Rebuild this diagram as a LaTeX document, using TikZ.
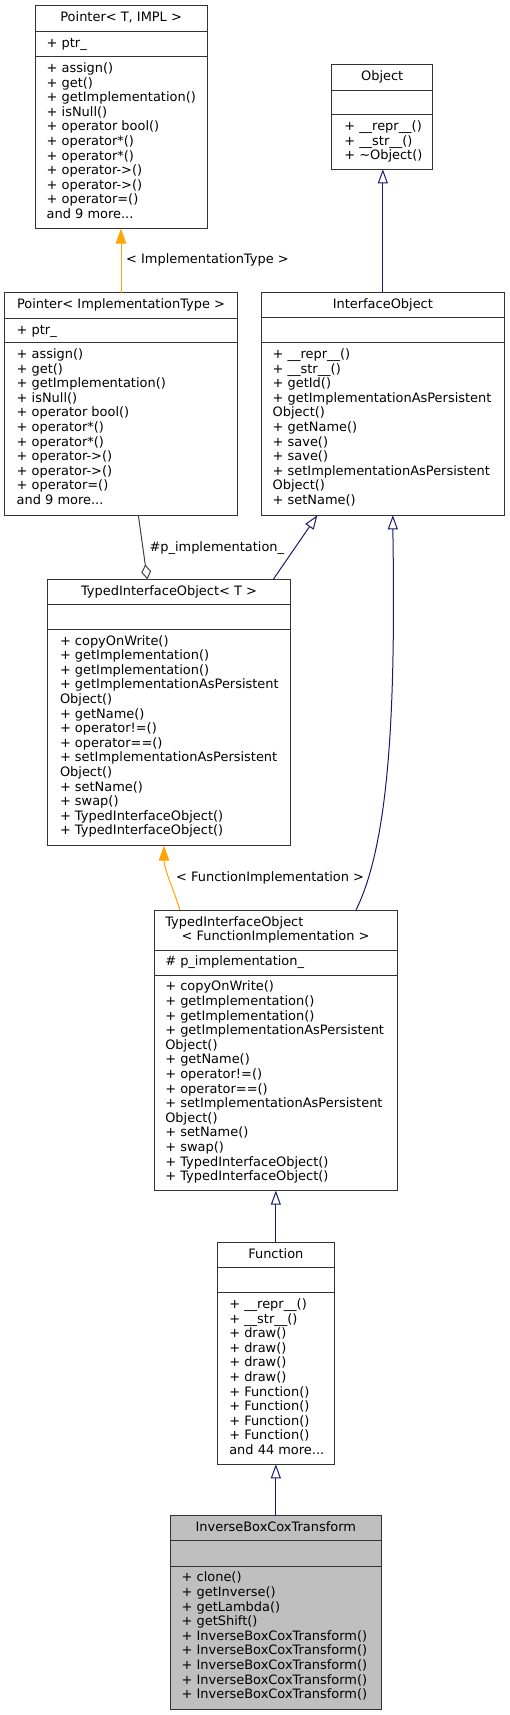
\documentclass[tikz,border=0pt]{standalone}
\usepackage{fontspec}
\setmainfont{DejaVu Sans}
\usetikzlibrary{arrows.meta}
\definecolor{edgeblue}{HTML}{191970}
\definecolor{edgeorange}{HTML}{FFA500}
\definecolor{edgegray}{HTML}{404040}
\definecolor{boxline}{HTML}{333333}
\definecolor{selfill}{HTML}{BFBFBF}
\newcommand\mydots{...}
\begin{document}
\begin{tikzpicture}[x=1pt,y=-1pt,
  cls/.style={draw=boxline,line width=1pt,inner sep=0pt,outer sep=0pt,fill=white},
  div/.style={draw=boxline,line width=1pt},
  txt/.style={anchor=base west,inner sep=0pt,outer sep=0pt,font=\fontsize{12.95}{14.6}\selectfont},
  ttl/.style={anchor=base,inner sep=0pt,outer sep=0pt,font=\fontsize{12.95}{14.6}\selectfont},
  inherit/.style={draw=edgeblue,line width=1pt,-{Triangle[open,length=14pt,width=10pt,fill=white]}},
  templ/.style={draw=edgeorange,line width=1pt,-{Triangle[length=15pt,width=10.5pt,fill=edgeorange]}},
  aggr/.style={draw=edgegray,line width=1pt,{Diamond[open,length=15pt,width=10pt,fill=white]}-},
  elabel/.style={anchor=base west,inner sep=0pt,font=\fontsize{12.95}{14.6}\selectfont}]
\useasboundingbox (0,0) rectangle (509,1715);

% ---------- Pointer< T, IMPL >
\node[cls,minimum width=172.3pt,minimum height=223pt] (ptrT) at (121.15,117.2) {};
\draw[div] (35,31.7) -- (207.3,31.7);
\draw[div] (35,56.7) -- (207.3,56.7);
\node[ttl] (ptrT-t) at (121.15,21.7) {Pointer< T, IMPL >};
\node[txt] (ptrT-a) at (46.7,47.5) {+ ptr\_};
\foreach \t [count=\i from 0] in {+ assign(),+ get(),+ getImplementation(),+ isNull(),+ operator bool(),+ operator*(),+ operator*(),+ operator->(),+ operator->(),+ operator=(),and 9 more\mydots}
  \node[txt] (ptrT-m\i) at (46.7,72.5+\i*14.6) {\t};

% ---------- Object
\node[cls,minimum width=101pt,minimum height=104.6pt] (obj) at (382.2,117) {};
\draw[div] (331.7,90.7) -- (432.7,90.7);
\draw[div] (331.7,115) -- (432.7,115);
\node[ttl] (obj-t) at (382.2,80.7) {Object};
\foreach \t [count=\i from 0] in {+ \_\_repr\_\_(),+ \_\_str\_\_(),+ \textasciitilde Object()}
  \node[txt] (obj-m\i) at (344.3,130.8+\i*14.6) {\t};

% ---------- Pointer< ImplementationType >
\node[cls,minimum width=232.6pt,minimum height=222.3pt] (ptrI) at (121,403.85) {};
\draw[div] (4.7,318.3) -- (237.3,318.3);
\draw[div] (4.7,342.7) -- (237.3,342.7);
\node[ttl] (ptrI-t) at (121,308.7) {Pointer< ImplementationType >};
\node[txt] (ptrI-a) at (16.7,334) {+ ptr\_};
\foreach \t [count=\i from 0] in {+ assign(),+ get(),+ getImplementation(),+ isNull(),+ operator bool(),+ operator*(),+ operator*(),+ operator->(),+ operator->(),+ operator=(),and 9 more\mydots}
  \node[txt] (ptrI-m\i) at (16.7,358.5+\i*14.6) {\t};

% ---------- InterfaceObject
\node[cls,minimum width=242.3pt,minimum height=222.6pt] (iface) at (382.85,404) {};
\draw[div] (261.7,317.3) -- (504,317.3);
\draw[div] (261.7,342.7) -- (504,342.7);
\node[ttl] (iface-t) at (382.85,308.5) {InterfaceObject};
\foreach \t [count=\i from 0] in {+ \_\_repr\_\_(),+ \_\_str\_\_(),+ getId(),+ getImplementationAsPersistent,Object(),+ getName(),+ save(),+ save(),+ setImplementationAsPersistent,Object(),+ setName()}
  \node[txt] (iface-m\i) at (272.7,358.5+\i*14.6) {\t};

% ---------- TypedInterfaceObject< T >
\node[cls,minimum width=243.4pt,minimum height=266.4pt] (tioT) at (169,712.5) {};
\draw[div] (47.3,604.3) -- (290.7,604.3);
\draw[div] (47.3,629.3) -- (290.7,629.3);
\node[ttl] (tioT-t) at (169,595.3) {TypedInterfaceObject< T >};
\foreach \t [count=\i from 0] in {+ copyOnWrite(),+ getImplementation(),+ getImplementation(),+ getImplementationAsPersistent,Object(),+ getName(),+ operator!=(),+ operator==(),+ setImplementationAsPersistent,Object(),+ setName(),+ swap(),+ TypedInterfaceObject(),+ TypedInterfaceObject()}
  \node[txt] (tioT-m\i) at (60,645.1+\i*14.6) {\t};

% ---------- TypedInterfaceObject< FunctionImplementation >
\node[cls,minimum width=242.6pt,minimum height=280.7pt] (tioF) at (276,1050.35) {};
\draw[div] (154.7,950) -- (397.3,950);
\draw[div] (154.7,975) -- (397.3,975);
\node[txt] (tioF-t1) at (165.3,926) {TypedInterfaceObject};
\node[ttl] (tioF-t2) at (275.5,940.6) {< FunctionImplementation >};
\node[txt] (tioF-a) at (165.3,965.8) {\# p\_implementation\_};
\foreach \t [count=\i from 0] in {+ copyOnWrite(),+ getImplementation(),+ getImplementation(),+ getImplementationAsPersistent,Object(),+ getName(),+ operator!=(),+ operator==(),+ setImplementationAsPersistent,Object(),+ setName(),+ swap(),+ TypedInterfaceObject(),+ TypedInterfaceObject()}
  \node[txt] (tioF-m\i) at (165.3,990.8+\i*14.6) {\t};

% ---------- Function
\node[cls,minimum width=116.3pt,minimum height=222.3pt] (func) at (275.85,1353.15) {};
\draw[div] (217.7,1267.3) -- (334,1267.3);
\draw[div] (217.7,1292.7) -- (334,1292.7);
\node[ttl] (func-t) at (275.85,1258) {Function};
\foreach \t [count=\i from 0] in {+ \_\_repr\_\_(),+ \_\_str\_\_(),+ draw(),+ draw(),+ draw(),+ draw(),+ Function(),+ Function(),+ Function(),+ Function(),and 44 more\mydots}
  \node[txt] (func-m\i) at (229.3,1308.5+\i*14.6) {\t};

% ---------- InverseBoxCoxTransform
\node[cls,fill=selfill,minimum width=211.7pt,minimum height=194pt] (ibct) at (275.85,1612) {};
\draw[div] (170,1540.7) -- (381.7,1540.7);
\draw[div] (170,1566) -- (381.7,1566);
\node[ttl] (ibct-t) at (275.85,1531) {InverseBoxCoxTransform};
\foreach \t [count=\i from 0] in {+ clone(),+ getInverse(),+ getLambda(),+ getShift(),+ InverseBoxCoxTransform(),+ InverseBoxCoxTransform(),+ InverseBoxCoxTransform(),+ InverseBoxCoxTransform(),+ InverseBoxCoxTransform()}
  \node[txt] (ibct-m\i) at (181.7,1581.8+\i*14.6) {\t};

% ---------- connectors
\draw[templ] (ptrI.north) -- (ptrI.north |- ptrT.south);
\node[elabel] (lbl-impl) at (126,263.7) {< ImplementationType >};

\draw[inherit] (iface.north) -- (iface.north |- obj.south);

\draw[aggr] ([xshift=-21.7pt]tioT.north) -- ([xshift=17.3pt]ptrI.south);
\node[elabel] (lbl-pimpl) at (149.3,551) {\#p\_implementation\_};

\draw[inherit] ([xshift=104.3pt]tioT.north) -- ([xshift=-65.5pt]iface.south);

\draw[inherit] ([xshift=80pt]tioF.north) .. controls (388,845) and (396,720) .. ([xshift=10pt,yshift=-14pt]iface.south) -- ([xshift=10pt]iface.south);

\draw[templ] ([xshift=-96pt]tioF.north) .. controls (172,885) and (165,872) .. ([xshift=-5pt,yshift=-15pt]tioT.south) -- ([xshift=-5pt]tioT.south);
\node[elabel] (lbl-fimpl) at (176,881) {< FunctionImplementation >};

\draw[inherit] (func.north) -- (func.north |- tioF.south);
\draw[inherit] (ibct.north) -- (ibct.north |- func.south);
\end{tikzpicture}
\end{document}
